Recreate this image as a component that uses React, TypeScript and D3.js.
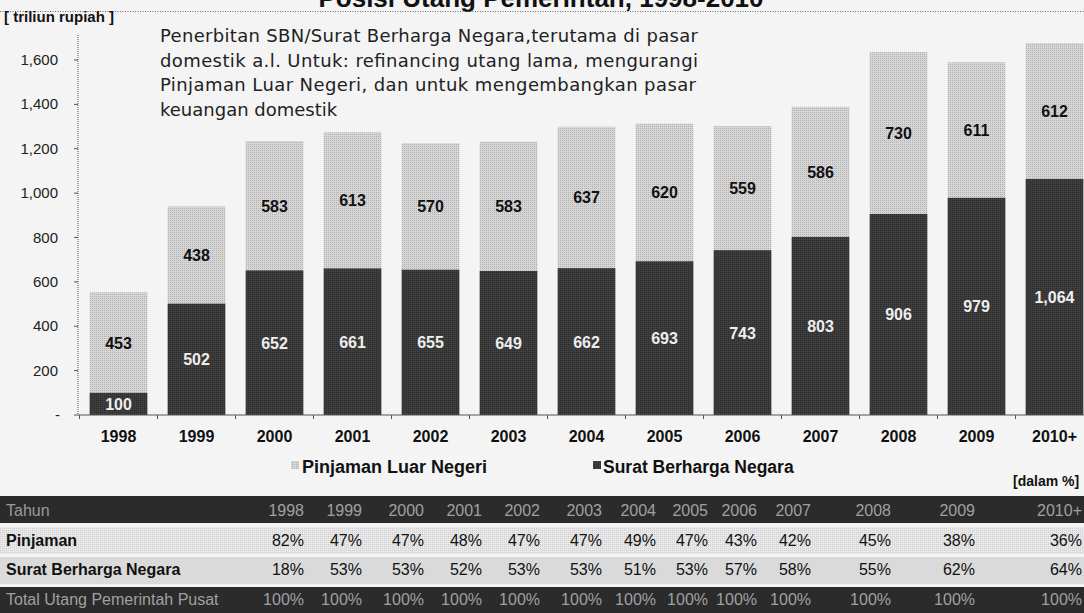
import React from "react";
import * as d3 from "d3";

const years = ["1998", "1999", "2000", "2001", "2002", "2003", "2004", "2005", "2006", "2007", "2008", "2009", "2010+"];
const sbn = [100, 502, 652, 661, 655, 649, 662, 693, 743, 803, 906, 979, 1064];
const pinjaman = [453, 438, 583, 613, 570, 583, 637, 620, 559, 586, 730, 611, 612];
const yTicks = [0, 200, 400, 600, 800, 1000, 1200, 1400, 1600];

const tableYears = ["1998", "1999", "2000", "2001", "2002", "2003", "2004", "2005", "2006", "2007", "2008", "2009", "2010+"];
const pctPinjaman = ["82%", "47%", "47%", "48%", "47%", "47%", "49%", "47%", "43%", "42%", "45%", "38%", "36%"];
const pctSbn = ["18%", "53%", "53%", "52%", "53%", "53%", "51%", "53%", "57%", "58%", "55%", "62%", "64%"];
const pctTotal = ["100%", "100%", "100%", "100%", "100%", "100%", "100%", "100%", "100%", "100%", "100%", "100%", "100%"];

const title = "Posisi Utang Pemerintah, 1998-2010";
const noteLines = [
  "Penerbitan SBN/Surat Berharga Negara,terutama di pasar",
  "domestik a.l. Untuk: refinancing utang lama, mengurangi",
  "Pinjaman Luar Negeri, dan untuk mengembangkan pasar",
  "keuangan domestik",
];

// layout only: table column right edges and note line widths
const colRight = [304, 362, 424, 482, 540, 602, 656, 708, 757, 811, 891, 975, 1082];
const noteWidths = [538, 538, 536, 0];

const W = 1084;
const H = 613;
const ARIAL = "'Liberation Sans', Arial, sans-serif";

export default function App() {
  const x = d3.scaleBand<string>().domain(years).range([79.5, 1093.5]).paddingInner(0.26).paddingOuter(0.13);
  const y = d3.scaleLinear().domain([0, 1600]).range([415, 60]);
  const fmt = d3.format(",");
  const step = x.step();

  return (
    <>
      <style>{`body{margin:0;}`}</style>
      <svg width={W} height={H} style={{ display: "block", background: "#f4f4f4" }} fontFamily={ARIAL}>
        <defs>
          <pattern id="lightDots" width="2" height="2" patternUnits="userSpaceOnUse">
            <rect width="2" height="2" fill="#d6d6d6" />
            <rect width="1" height="1" fill="#b0b0b0" />
          </pattern>
          <pattern id="darkDots" width="2" height="2" patternUnits="userSpaceOnUse">
            <rect width="2" height="2" fill="#3e3e3e" />
            <rect width="1" height="1" fill="#2a2a2a" />
          </pattern>
          <pattern id="rowDots" width="2" height="2" patternUnits="userSpaceOnUse">
            <rect width="2" height="2" fill="#e8e8e8" />
            <rect width="1" height="1" fill="#cfcfcf" />
          </pattern>
        </defs>
        <rect width={W} height={H} fill="#f4f4f4" />
        {/* title (cut at the top edge, as in the source) */}
        <text x={541} y={7} textAnchor="middle" fontWeight="bold" fontSize={26} fill="#111">{title}</text>
        <line x1={0} x2={W} y1={11.5} y2={11.5} stroke="#666" strokeDasharray="1,1.5" />
        <text x={4} y={22} fontWeight="bold" fontSize={15} fill="#111">[ triliun rupiah ]</text>

        {/* y axis */}
        <line x1={78} x2={78} y1={35} y2={415} stroke="#555" strokeDasharray="1,1" />
        {yTicks.map((t) => (
          <g key={t}>
            <line x1={74} x2={78} y1={y(t)} y2={y(t)} stroke="#555" />
            <text x={t === 0 ? 60 : 58} y={y(t) + 5} textAnchor="end" fontSize={15} fill="#222">
              {t === 0 ? "-" : fmt(t)}
            </text>
          </g>
        ))}

        {/* bars */}
        {years.map((yr, i) => {
          const bx = x(yr)!;
          const bw = x.bandwidth();
          const total = sbn[i] + pinjaman[i];
          return (
            <g key={yr}>
              <rect x={bx} y={y(total)} width={bw} height={y(sbn[i]) - y(total)} fill="url(#lightDots)" />
              <rect x={bx} y={y(sbn[i])} width={bw} height={y(0) - y(sbn[i])} fill="url(#darkDots)" />
              <text x={bx + bw / 2} y={y(sbn[i] + pinjaman[i] / 2) + 6} textAnchor="middle" fontWeight="bold" fontSize={16} fill="#111">
                {fmt(pinjaman[i])}
              </text>
              <text x={bx + bw / 2} y={y(sbn[i] / 2) + 6} textAnchor="middle" fontWeight="bold" fontSize={16} fill="#eee">
                {fmt(sbn[i])}
              </text>
              <text x={bx + bw / 2} y={442} textAnchor="middle" fontWeight="bold" fontSize={16} fill="#111">{yr}</text>
            </g>
          );
        })}

        {/* x axis */}
        <line x1={78} x2={W} y1={415} y2={415} stroke="#555" />
        {years.map((yr, i) => (
          <line key={yr} x1={79.5 + i * step} x2={79.5 + i * step} y1={415} y2={419} stroke="#555" />
        ))}

        {/* annotation */}
        {noteLines.map((l, i) => (
          <text
            key={i}
            x={160}
            y={42 + i * 24.5}
            fontFamily="'DejaVu Sans', sans-serif"
            fontSize={18}
            fill="#222"
            {...(noteWidths[i] ? { textLength: noteWidths[i], lengthAdjust: "spacing" } : {})}
          >
            {l}
          </text>
        ))}

        {/* legend */}
        <rect x={291} y={461} width={8} height={8} fill="url(#lightDots)" />
        <text x={302} y={473} fontWeight="bold" fontSize={18} fill="#111">Pinjaman Luar Negeri</text>
        <rect x={593} y={461} width={8} height={8} fill="url(#darkDots)" />
        <text x={603} y={473} fontWeight="bold" fontSize={17.5} fill="#111">Surat Berharga Negara</text>
        <text x={1013} y={486} fontWeight="bold" fontSize={14} fill="#111">[dalam %]</text>

        {/* table */}
        <rect x={0} y={496} width={W} height={27} fill="#2b2b2b" />
        <rect x={0} y={527} width={W} height={27} fill="url(#rowDots)" />
        <rect x={0} y={557} width={W} height={27} fill="#dadada" />
        <rect x={0} y={587} width={W} height={26} fill="#2b2b2b" />
        <text x={6} y={516} fontSize={16} fill="#9a9a9a">Tahun</text>
        <text x={6} y={546} fontSize={16} fontWeight="bold" fill="#111">Pinjaman</text>
        <text x={6} y={575} fontSize={16} fontWeight="bold" fill="#111">Surat Berharga Negara</text>
        <text x={6} y={605} fontSize={16} fill="#a0a0a0">Total Utang Pemerintah Pusat</text>
        {tableYears.map((t, i) => (
          <g key={t} fontSize={16}>
            <text x={colRight[i]} y={516} textAnchor="end" fill="#a0a0a0">{t}</text>
            <text x={colRight[i]} y={546} textAnchor="end" fill="#111">{pctPinjaman[i]}</text>
            <text x={colRight[i]} y={575} textAnchor="end" fill="#111">{pctSbn[i]}</text>
            <text x={colRight[i]} y={605} textAnchor="end" fill="#a0a0a0">{pctTotal[i]}</text>
          </g>
        ))}
      </svg>
    </>
  );
}
